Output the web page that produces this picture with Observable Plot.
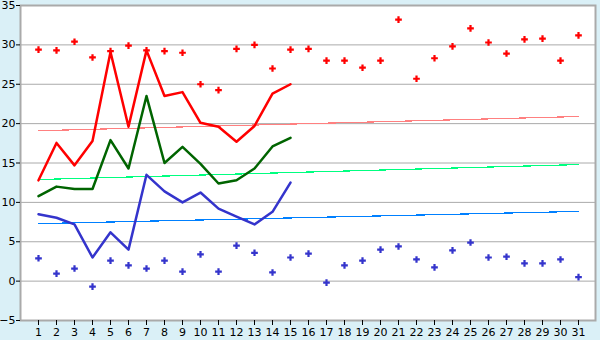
<!DOCTYPE html>
<html>
<head>
<meta charset="utf-8">
<script src="https://cdn.jsdelivr.net/npm/d3@7"></script>
<script src="https://cdn.jsdelivr.net/npm/@observablehq/plot@0.6"></script>
<style>
  html, body { margin: 0; padding: 0; background: #daf0f7; }
  #chart svg { display: block; }
</style>
</head>
<body>
<div id="chart"></div>
<script>
const days = d3.range(1, 32);
const yTicks = [-5, 0, 5, 10, 15, 20, 25, 30, 35];

const highMarks = [29.4, 29.3, 30.4, 28.4, 29.2, 29.9, 29.3, 29.2, 29.0, 25.0,
  24.25, 29.5, 30.0, 27.0, 29.4, 29.5, 28.0, 28.0, 27.1, 28.0,
  33.2, 25.7, 28.3, 29.8, 32.1, 30.3, 28.9, 30.7, 30.8, 28.0, 31.2];
const lowMarks = [2.9, 0.95, 1.6, -0.7, 2.6, 2.0, 1.6, 2.6, 1.2, 3.4,
  1.2, 4.5, 3.6, 1.1, 3.0, 3.5, -0.2, 2.0, 2.6, 4.0,
  4.4, 2.75, 1.75, 3.9, 4.9, 3.0, 3.1, 2.25, 2.25, 2.75, 0.5];

const lineDays = d3.range(1, 16);
const redLine = [12.8, 17.55, 14.7, 17.8, 29.1, 19.6, 29.3, 23.5, 24.0, 20.1,
  19.6, 17.7, 19.7, 23.8, 25.0];
const greenLine = [10.8, 12.0, 11.7, 11.7, 17.9, 14.3, 23.5, 15.0, 17.05, 14.9,
  12.4, 12.8, 14.3, 17.1, 18.2];
const blueLine = [8.5, 8.05, 7.2, 3.0, 6.2, 4.0, 13.5, 11.4, 10.0, 11.25,
  9.2, 8.2, 7.2, 8.8, 12.5];

const trendDays = [1, 31];
const redTrend = [19.1, 20.9];
const greenTrend = [12.9, 14.8];
const blueTrend = [7.3, 8.85];

const toRows = (xs, ys) => xs.map((d, i) => ({day: d, v: ys[i]}));

const chart = Plot.plot({
  width: 600,
  height: 340,
  marginLeft: 20,
  marginRight: 5,
  marginTop: 5,
  marginBottom: 20,
  style: {background: "#daf0f7", fontFamily: "DejaVu Sans, Verdana, sans-serif", fontSize: "11px", color: "black"},
  x: {type: "point", domain: days, padding: 0.5, label: null},
  y: {domain: [-5, 35], label: null},
  marks: [
    Plot.frame({fill: "white", stroke: null}),
    Plot.ruleY(yTicks, {stroke: "#aaaaaa", strokeWidth: 1}),
    Plot.frame({stroke: "#aaaaaa", strokeWidth: 2}),
    Plot.line(toRows(trendDays, redTrend), {x: "day", y: "v", stroke: "#ff8080", strokeWidth: 1.2, shapeRendering: "crispEdges"}),
    Plot.line(toRows(trendDays, greenTrend), {x: "day", y: "v", stroke: "#00ff80", strokeWidth: 1.2, shapeRendering: "crispEdges"}),
    Plot.line(toRows(trendDays, blueTrend), {x: "day", y: "v", stroke: "#0080ff", strokeWidth: 1.2, shapeRendering: "crispEdges"}),
    Plot.line(toRows(lineDays, redLine), {x: "day", y: "v", stroke: "#ff0000", strokeWidth: 2.5}),
    Plot.line(toRows(lineDays, greenLine), {x: "day", y: "v", stroke: "#006400", strokeWidth: 2.5}),
    Plot.line(toRows(lineDays, blueLine), {x: "day", y: "v", stroke: "#3434cc", strokeWidth: 2.5}),
    Plot.dot(toRows(days, highMarks), {x: "day", y: "v", symbol: "cross", r: 2.8, fill: "#ff0000", stroke: null}),
    Plot.dot(toRows(days, lowMarks), {x: "day", y: "v", symbol: "cross", r: 2.8, fill: "#3434cc", stroke: null}),
    Plot.axisY({ticks: yTicks, tickSize: 4, tickPadding: 1, stroke: "black", fontSize: 11, label: null}),
    Plot.axisX({ticks: days, tickSize: 5, tickPadding: 3, stroke: "black", fontSize: 11, label: null})
  ]
});
document.getElementById("chart").appendChild(chart);
</script>
</body>
</html>
